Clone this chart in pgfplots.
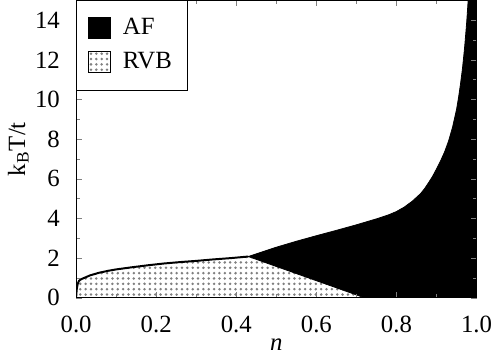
\documentclass[border=0pt]{standalone}
\usepackage{fontspec}
\setmainfont{Liberation Serif}
\usepackage{pgfplots}
\pgfplotsset{compat=1.18}
\usetikzlibrary{patterns,patterns.meta}
\begin{document}
\fontsize{12}{14}\selectfont
\begin{tikzpicture}
\begin{axis}[
  scale only axis, width=202pt, height=150pt,
  xmin=0, xmax=1, ymin=0, ymax=15,
  xtick={0,0.2,0.4,0.6,0.8,1.0}, ytick={0,2,...,14},
  xticklabels={\textrm{0.0},\textrm{0.2},\textrm{0.4},\textrm{0.6},\textrm{0.8},\textrm{1.0}},
  yticklabels={\textrm{0},\textrm{2},\textrm{4},\textrm{6},\textrm{8},\textrm{10},\textrm{12},\textrm{14}},
  minor xtick={0.1,0.3,...,0.9}, minor ytick={1,3,...,13},
  tick label style={font=\fontsize{12.5}{14}\selectfont},
  xticklabel style={yshift=-5pt}, yticklabel style={xshift=-4pt},
  tick align=inside, major tick length=3pt, minor tick length=2pt,
  xlabel={\textit{n}}, ylabel={k\textsubscript{B}T/t},
  label style={font=\fontsize{12.5}{14}\selectfont},
  xlabel style={yshift=5pt}, ylabel style={yshift=-5pt},
  legend style={at={(0,1)}, anchor=north west, draw=black, font=\fontsize{12.5}{14}\selectfont,
    inner xsep=6pt, inner ysep=7pt, row sep=3pt, legend cell align=left},
  legend image code/.code={\draw[#1] (0pt,-5pt) rectangle (11pt,5.5pt); \path (15pt,0pt);},
  axis on top,
]
\addlegendimage{fill=black, draw=black}
\addlegendentry{AF}
\addlegendimage{pattern={Dots[distance=2.7pt, radius=0.7pt]}, pattern color=gray, draw=black}
\addlegendentry{RVB}
% RVB region
\addplot[forget plot, draw=none, pattern={Dots[distance=2.7pt, radius=0.7pt]}, pattern color=gray] coordinates {
(0,0) (0.001,0.3) (0.002,0.5) (0.004,0.7) (0.007,0.85) (0.012,0.93) (0.02,1.0) (0.035,1.13) (0.057,1.26) (0.08,1.36) (0.1,1.43) (0.14,1.54)
(0.18,1.64) (0.22,1.73) (0.26,1.8) (0.3,1.86) (0.34,1.93) (0.386,2.0) (0.43,2.08) (0.72,0) (0,0)};
% RVB upper line
\addplot[forget plot, black, line width=1pt] coordinates {
(0,0) (0.001,0.3) (0.002,0.5) (0.004,0.7) (0.007,0.85) (0.012,0.93) (0.02,1.0) (0.035,1.13) (0.057,1.26) (0.08,1.36) (0.1,1.43) (0.14,1.54)
(0.18,1.64) (0.22,1.73) (0.26,1.8) (0.3,1.86) (0.34,1.93) (0.386,2.0) (0.43,2.08)};
% AF region
\addplot[forget plot, draw=black, fill=black] coordinates {
(0.43,2.08) (0.47,2.35) (0.5,2.55) (0.55,2.85) (0.6,3.13) (0.65,3.4) (0.7,3.68) (0.75,3.98)
(0.78,4.18) (0.8,4.35) (0.82,4.58) (0.84,4.88) (0.86,5.25) (0.87,5.5) (0.88,5.8) (0.89,6.12) (0.9,6.5) (0.91,6.9) (0.92,7.35) (0.93,7.9)
(0.94,8.6) (0.95,9.5) (0.955,10.1) (0.96,10.8) (0.965,11.6) (0.97,12.6) (0.975,13.8) (0.979,15)
(1,15) (1,0) (0.72,0) (0.43,2.08)};
\end{axis}
\end{tikzpicture}
\end{document}
